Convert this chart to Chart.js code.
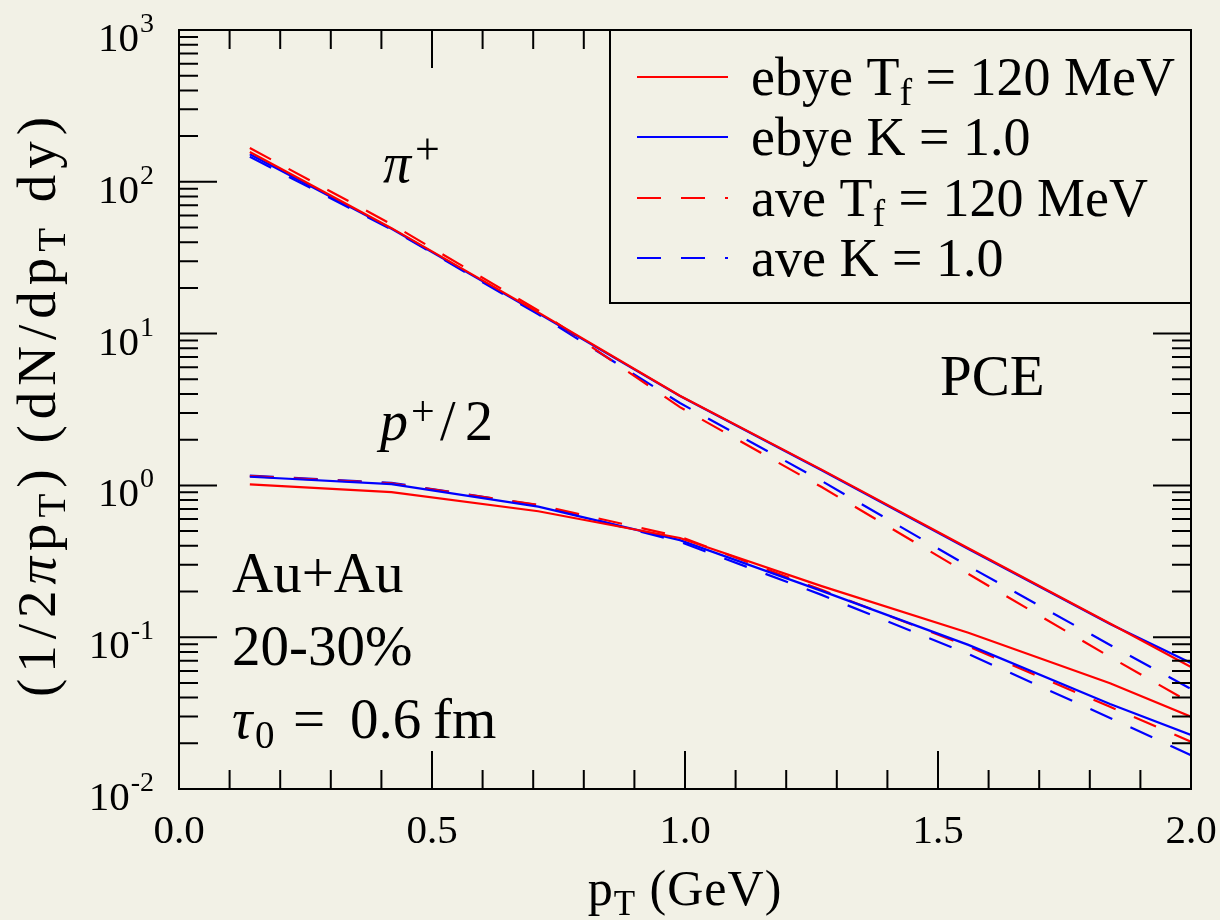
<!DOCTYPE html>
<html><head><meta charset="utf-8">
<script src="https://cdn.jsdelivr.net/npm/chart.js@4.4.1/dist/chart.umd.min.js"></script>
<style>html,body{margin:0;padding:0;background:#f2f1e6;}canvas{display:block}</style>
</head><body>
<canvas id="c" width="1220" height="920"></canvas>
<script>
// ---- data ----
const pT = [0.14, 0.42, 0.71, 0.99, 1.27, 1.56, 1.84, 2.0];
const piEbyeTf = [157, 49.5, 13.8, 3.90, 1.27, 0.385, 0.123, 0.0637];
const piEbyeK  = [152, 49.0, 13.6, 3.88, 1.26, 0.381, 0.122, 0.0676];
const piAveTf  = [167, 52.5, 14.2, 3.28, 0.975, 0.261, 0.0741, 0.0369];
const piAveK   = [146, 48.5, 13.4, 3.49, 1.07, 0.294, 0.0889, 0.0456];
const pEbyeTf  = [1.016, 0.904, 0.676, 0.450, 0.217, 0.107, 0.0497, 0.0299];
const pEbyeK   = [1.14, 1.02, 0.724, 0.436, 0.202, 0.089, 0.0363, 0.0227];
const pAveTf   = [1.15, 1.03, 0.743, 0.459, 0.205, 0.087, 0.0348, 0.0205];
const pAveK    = [1.16, 1.04, 0.740, 0.425, 0.190, 0.0775, 0.0294, 0.0167];

const xMajorTicks = [0, 0.5, 1.0, 1.5, 2.0];
const xTickLabels = ['0.0', '0.5', '1.0', '1.5', '2.0'];
const xMinorTicks = [0.1,0.2,0.3,0.4,0.6,0.7,0.8,0.9,1.1,1.2,1.3,1.4,1.6,1.7,1.8,1.9];
const yMajorTicks = [0.01, 0.1, 1, 10, 100, 1000];
const yTickExponents = ['-2', '-1', '0', '1', '2', '3'];
const yMinorMultipliers = [2,3,4,5,6,7,8,9];

const legendNames = [['ebye T','f',' = 120 MeV'], ['ebye K = 1.0','',''], ['ave T','f',' = 120 MeV'], ['ave K = 1.0','','']];
const RED = '#ff0000', BLUE = '#0000ff';
const DASH = [24, 20];
const FONT = '"Liberation Serif", "Times New Roman", serif';
const BG = '#f2f1e6';

function pts(arr){ return pT.map((x,i)=>({x:x, y:arr[i]})); }
function ds(label, arr, color, dashed){
  return {label:label, data:pts(arr), borderColor:color, backgroundColor:color,
    borderWidth:2.2, borderDash: dashed ? DASH : [], pointRadius:0, tension:0, fill:false};
}

function rich(ctx, x, y, parts, align, spacing){
  // parts: [text, size, dy, style]
  ctx.letterSpacing = (spacing || 0) + 'px';
  let w = 0;
  parts.forEach(p=>{ ctx.font = (p[3]||'') + ' ' + p[1] + 'px ' + FONT; w += ctx.measureText(p[0]).width; });
  let cx = align === 'center' ? x - w/2 : (align === 'right' ? x - w : x);
  parts.forEach(p=>{
    ctx.font = (p[3]||'') + ' ' + p[1] + 'px ' + FONT;
    ctx.textAlign = 'left'; ctx.textBaseline = 'alphabetic';
    ctx.fillText(p[0], cx, y + (p[2]||0));
    cx += ctx.measureText(p[0]).width;
  });
  ctx.letterSpacing = '0px';
  return w;
}

const bgPlugin = {
  id:'bg',
  beforeDraw(chart){
    const c = chart.ctx; c.save(); c.fillStyle = BG; c.fillRect(0,0,chart.width,chart.height); c.restore();
  }
};

const decorPlugin = {
  id:'decor',
  afterDraw(chart){
    const c = chart.ctx, a = chart.chartArea, xs = chart.scales.x, ys = chart.scales.y;
    c.save();
    c.strokeStyle = '#000'; c.fillStyle = '#000'; c.lineWidth = 2;
    // frame
    c.strokeRect(a.left, a.top, a.right - a.left, a.bottom - a.top);
    const MAJ = 38, MIN = 19;
    c.beginPath();
    xMajorTicks.forEach(v=>{ const px = xs.getPixelForValue(v);
      c.moveTo(px, a.bottom); c.lineTo(px, a.bottom - MAJ);
      c.moveTo(px, a.top); c.lineTo(px, a.top + MAJ); });
    xMinorTicks.forEach(v=>{ const px = xs.getPixelForValue(v);
      c.moveTo(px, a.bottom); c.lineTo(px, a.bottom - MIN);
      c.moveTo(px, a.top); c.lineTo(px, a.top + MIN); });
    yMajorTicks.forEach((v,i)=>{ const py = ys.getPixelForValue(v);
      c.moveTo(a.left, py); c.lineTo(a.left + MAJ, py);
      c.moveTo(a.right, py); c.lineTo(a.right - MAJ, py);
      if (i < yMajorTicks.length - 1) {
        yMinorMultipliers.forEach(m=>{ const q = ys.getPixelForValue(v*m);
          c.moveTo(a.left, q); c.lineTo(a.left + MIN, q);
          c.moveTo(a.right, q); c.lineTo(a.right - MIN, q); });
      }
    });
    c.stroke();

    // x tick labels
    xMajorTicks.forEach((v,i)=>{ rich(c, xs.getPixelForValue(v), 843, [[xTickLabels[i], 41]], 'center'); });
    // y tick labels 10^n
    yMajorTicks.forEach((v,i)=>{
      const py = ys.getPixelForValue(v);
      c.font = '28px ' + FONT;
      const ew = c.measureText(yTickExponents[i]).width;
      c.textAlign = 'right'; c.textBaseline = 'alphabetic';
      c.fillText(yTickExponents[i], 154, py + 2);
      c.font = '41px ' + FONT;
      c.fillText('10', 154 - ew - 1, py + 21);
    });

    // axis titles
    c.save();
    c.translate(55, 404); c.rotate(-Math.PI/2);
    rich(c, 0, 0, [['(1/2',55],['π',55,0,'italic'],['p',55],['T',39,10],[') (dN/dp',55],['T',39,10],[' dy)',55]], 'center', 6);
    c.restore();
    rich(c, (a.left + a.right)/2, 905, [['p',50],['T',35,10],[' (GeV)',50]], 'center', 1);

    // annotations
    rich(c, 383, 182, [['π',56,0,'italic']], 'left');
    rich(c, 415, 164, [['+',44]], 'left');
    rich(c, 380, 440, [['p',56,0,'italic']], 'left');
    rich(c, 411, 425, [['+',42]], 'left');
    rich(c, 440, 440, [['/',56]], 'left');
    rich(c, 465, 440, [['2',56]], 'left');
    rich(c, 940, 395, [['PCE',57]], 'left');
    rich(c, 232, 592, [['Au+Au',57]], 'left');
    rich(c, 232, 665, [['20-30%',57]], 'left');
    rich(c, 232, 738, [['τ',57,0,'italic']], 'left');
    rich(c, 255, 738, [['0',39,10]], 'left');
    rich(c, 293, 738, [['=',57]], 'left');
    rich(c, 350, 738, [['0.6',57]], 'left');
    rich(c, 433, 738, [['fm',57]], 'left');

    // legend
    const lx0 = 610, ly0 = a.top, lx1 = a.right, ly1 = 303;
    c.fillStyle = BG; c.fillRect(lx0, ly0, lx1 - lx0, ly1 - ly0);
    c.strokeStyle = '#000'; c.lineWidth = 2; c.strokeRect(lx0, ly0, lx1 - lx0, ly1 - ly0);
    const rows = [77, 137, 198, 258];
    chart.data.datasets.slice(0,4).forEach((d,i)=>{
      c.strokeStyle = d.borderColor; c.lineWidth = 2.2; c.setLineDash(d.borderDash);
      c.beginPath(); c.moveTo(637, rows[i]); c.lineTo(728, rows[i]); c.stroke();
      c.setLineDash([]);
      c.fillStyle = '#000';
      const n = legendNames[i];
      rich(c, 751, rows[i] + 18, [[n[0],54],[n[1],38,10],[n[2],54]], 'left');
    });
    c.restore();
  }
};

new Chart(document.getElementById('c'), {
  type:'line',
  data:{datasets:[
    ds('ebye Tf = 120 MeV', piEbyeTf, RED, false),
    ds('ebye K = 1.0', piEbyeK, BLUE, false),
    ds('ave Tf = 120 MeV', piAveTf, RED, true),
    ds('ave K = 1.0', piAveK, BLUE, true),
    ds('p ebye Tf', pEbyeTf, RED, false),
    ds('p ebye K', pEbyeK, BLUE, false),
    ds('p ave Tf', pAveTf, RED, true),
    ds('p ave K', pAveK, BLUE, true)
  ]},
  options:{
    responsive:false, animation:false, devicePixelRatio:1,
    layout:{padding:{left:179, right:29, top:30, bottom:131}},
    plugins:{legend:{display:false}, tooltip:{enabled:false}},
    scales:{
      x:{type:'linear', min:0, max:2, display:false},
      y:{type:'logarithmic', min:0.01, max:1000, display:false}
    }
  },
  plugins:[bgPlugin, decorPlugin]
});
</script>
</body></html>
